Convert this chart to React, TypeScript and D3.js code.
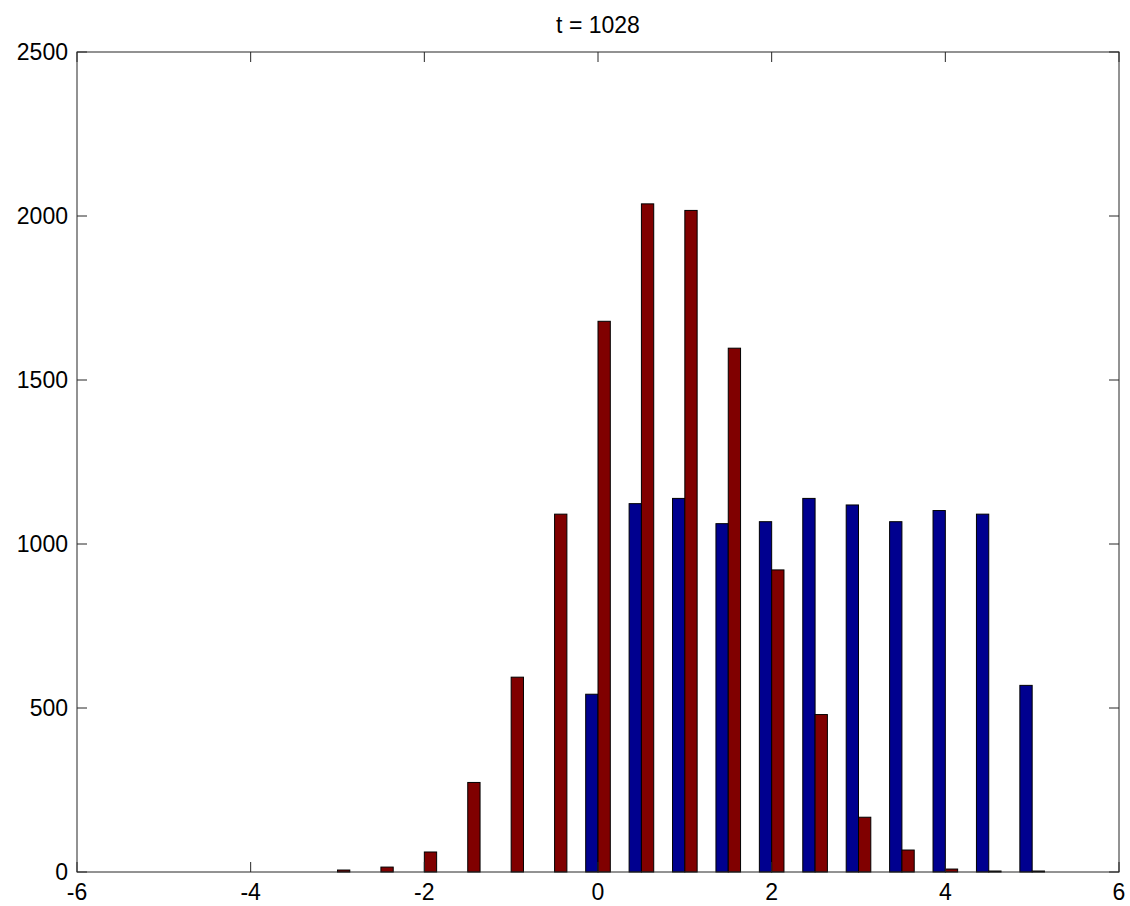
import React from "react";
import * as d3 from "d3";

const binCenters = [-3, -2.5, -2, -1.5, -1, -0.5, 0, 0.5, 1, 1.5, 2, 2.5, 3, 3.5, 4, 4.5, 5];
const blueCounts = [0, 0, 0, 0, 0, 0, 542, 1123, 1139, 1062, 1068, 1139, 1119, 1068, 1102, 1091, 569];
const redCounts = [6, 15, 61, 273, 594, 1091, 1679, 2037, 2017, 1597, 921, 480, 167, 67, 9, 3, 3];
const xTicks = [-6, -4, -2, 0, 2, 4, 6];
const yTicks = [0, 500, 1000, 1500, 2000, 2500];
const title = "t = 1028";

const W = 1130;
const H = 906;
const M = { left: 77, right: 1119, top: 52, bottom: 872 };
const BAR_W = 0.1417;
const FONT = "Arial, 'Liberation Sans', Helvetica, sans-serif";
const FS = 23;

export default function App() {
  const x = d3.scaleLinear().domain([-6, 6]).range([M.left, M.right]);
  const y = d3.scaleLinear().domain([0, 2500]).range([M.bottom, M.top]);
  const bw = x(BAR_W) - x(0);
  const tickLen = 10;
  const axisColor = "#262626";

  const series = [
    { values: blueCounts, color: "#00008F", offset: -1 },
    { values: redCounts, color: "#800000", offset: 0 },
  ];

  return (
    <svg
      width={W}
      height={H}
      style={{ position: "absolute", left: 0, top: 0, background: "#fff" }}
      fontFamily={FONT}
    >
      <rect x={0} y={0} width={W} height={H} fill="#fff" />
      {series.map((s, si) =>
        s.values.map((v, i) =>
          v > 0 ? (
            <rect
              key={`${si}-${i}`}
              x={x(binCenters[i]) + s.offset * bw}
              y={y(v)}
              width={bw}
              height={y(0) - y(v)}
              fill={s.color}
              stroke="#000"
              strokeWidth={1}
            />
          ) : null
        )
      )}
      <rect
        x={M.left}
        y={M.top}
        width={M.right - M.left}
        height={M.bottom - M.top}
        fill="none"
        stroke={axisColor}
        strokeWidth={1}
      />
      {xTicks.map((t) => (
        <g key={`xt${t}`}>
          <line x1={x(t)} x2={x(t)} y1={M.bottom} y2={M.bottom - tickLen} stroke={axisColor} />
          <line x1={x(t)} x2={x(t)} y1={M.top} y2={M.top + tickLen} stroke={axisColor} />
          <text x={x(t)} y={900} textAnchor="middle" fontSize={FS} fill="#000">
            {t}
          </text>
        </g>
      ))}
      {yTicks.map((t) => (
        <g key={`yt${t}`}>
          <line x1={M.left} x2={M.left + tickLen} y1={y(t)} y2={y(t)} stroke={axisColor} />
          <line x1={M.right} x2={M.right - tickLen} y1={y(t)} y2={y(t)} stroke={axisColor} />
          <text
            x={M.left - 9}
            y={y(t)}
            dy="0.36em"
            textAnchor="end"
            fontSize={FS}
            fill="#000"
          >
            {t}
          </text>
        </g>
      ))}
      <text x={(M.left + M.right) / 2} y={33} textAnchor="middle" fontSize={FS} fill="#000">
        {title}
      </text>
    </svg>
  );
}
